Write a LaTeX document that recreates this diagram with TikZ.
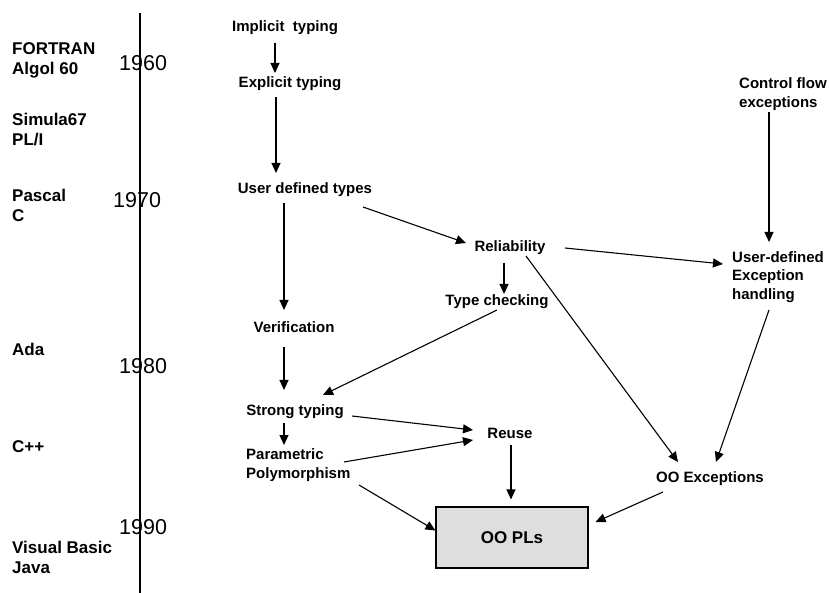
\documentclass[tikz,border=0pt]{standalone}
\usepackage{fontspec}
\setmainfont{Liberation Sans}
\usetikzlibrary{arrows.meta}
\begin{document}
\begin{tikzpicture}[x=1pt,y=-1pt,
  lang/.style={font=\fontsize{17}{20}\selectfont\bfseries, anchor=west, align=left, inner sep=0pt},
  yr/.style={font=\fontsize{21.5}{24}\selectfont, anchor=west, inner sep=0pt},
  concept/.style={font=\fontsize{15}{18.5}\selectfont\bfseries, inner sep=0pt, align=left},
  conn/.style={line width=1.1pt, -{Triangle[length=10pt,width=9pt]}},
  pl/.style={draw, line width=1.1pt, fill=black!13, minimum width=152pt, minimum height=61pt, font=\fontsize{17}{20}\selectfont\bfseries}
]
\useasboundingbox (0,0) rectangle (830,593);
% timeline axis
\coordinate (axtop) at (140,13);
\coordinate (axbot) at (140,593);
\draw[line width=1.1pt] (axtop) -- (axbot);
% years
\node[yr] (y60) at (119,63) {1960};
\node[yr] (y70) at (113,200) {1970};
\node[yr] (y80) at (119,366) {1980};
\node[yr] (y90) at (119,527) {1990};
% languages
\node[lang] (l1) at (12,60) {FORTRAN\\Algol 60};
\node[lang] (l2) at (12,130) {Simula67\\PL/I};
\node[lang] (l3) at (12,205) {Pascal\\C};
\node[lang] (l4) at (12,349) {Ada};
\node[lang] (l5) at (12,447) {C++};
\node[lang] (l6) at (12,557) {Visual Basic\\Java};
% concepts
\node[concept] (impl) at (285,28) {Implicit\ \ typing};
\node[concept] (expl) at (290,84) {Explicit typing};
\node[concept] (udt) at (305,190) {User defined types};
\node[concept] (rel) at (510,248) {Reliability};
\node[concept] (tc) at (497,302) {Type checking};
\node[concept] (ver) at (294,327) {Verification};
\node[concept] (st) at (295,412) {Strong typing};
\node[concept, anchor=west] (pp) at (246,465) {Parametric\\Polymorphism};
\node[concept] (reuse) at (510,433) {Reuse};
\node[concept] (ooe) at (710,479) {OO Exceptions};
\node[concept, anchor=west] (cfe) at (739,94) {Control flow\\exceptions};
\node[concept, anchor=west] (ude) at (732,277) {User-defined\\Exception\\handling};
\node[pl] (oopl) at (512,537.5) {OO PLs};
% connectors
\draw[conn] ([shift={(-10,15)}]impl.center) -- ([shift={(-15,-11)}]expl.center);
\draw[conn] ([shift={(-14,13)}]expl.center) -- ([shift={(-29,-17)}]udt.center);
\draw[conn] ([shift={(-21,13)}]udt.center) -- ([shift={(-10,-17)}]ver.center);
\draw[conn] ([shift={(58,17)}]udt.center) -- ([shift={(-44,-5)}]rel.center);
\draw[conn] ([shift={(-6,15)}]rel.center) -- ([shift={(7,-8)}]tc.center);
\draw[conn] ([shift={(16,8)}]rel.center) -- ([shift={(-32,-17)}]ooe.center);
\draw[conn] ([shift={(55,0)}]rel.center) -- ([shift={(-9,-13)}]ude.west);
\draw[conn] ([shift={(30,18)}]cfe.west) -- ([shift={(37,-35)}]ude.west);
\draw[conn] ([shift={(0,8)}]tc.center) -- ([shift={(28,-17)}]st.center);
\draw[conn] ([shift={(-10,20)}]ver.center) -- ([shift={(-11,-22)}]st.center);
\draw[conn] ([shift={(-11,11)}]st.center) -- ([shift={(38,-20)}]pp.west);
\draw[conn] ([shift={(57,4)}]st.center) -- ([shift={(-37,-3)}]reuse.center);
\draw[conn] ([shift={(98,-3)}]pp.west) -- ([shift={(-37,7)}]reuse.center);
\draw[conn] ([shift={(113,20)}]pp.west) -- ([shift={(0,-7)}]oopl.west);
\draw[conn] ([shift={(1,12)}]reuse.center) -- ([shift={(-1,-7)}]oopl.north);
\draw[conn] ([shift={(37,33)}]ude.west) -- ([shift={(6,-17)}]ooe.center);
\draw[conn] ([shift={(-47,13)}]ooe.center) -- ([shift={(7,-15.5)}]oopl.east);
\end{tikzpicture}
\end{document}
